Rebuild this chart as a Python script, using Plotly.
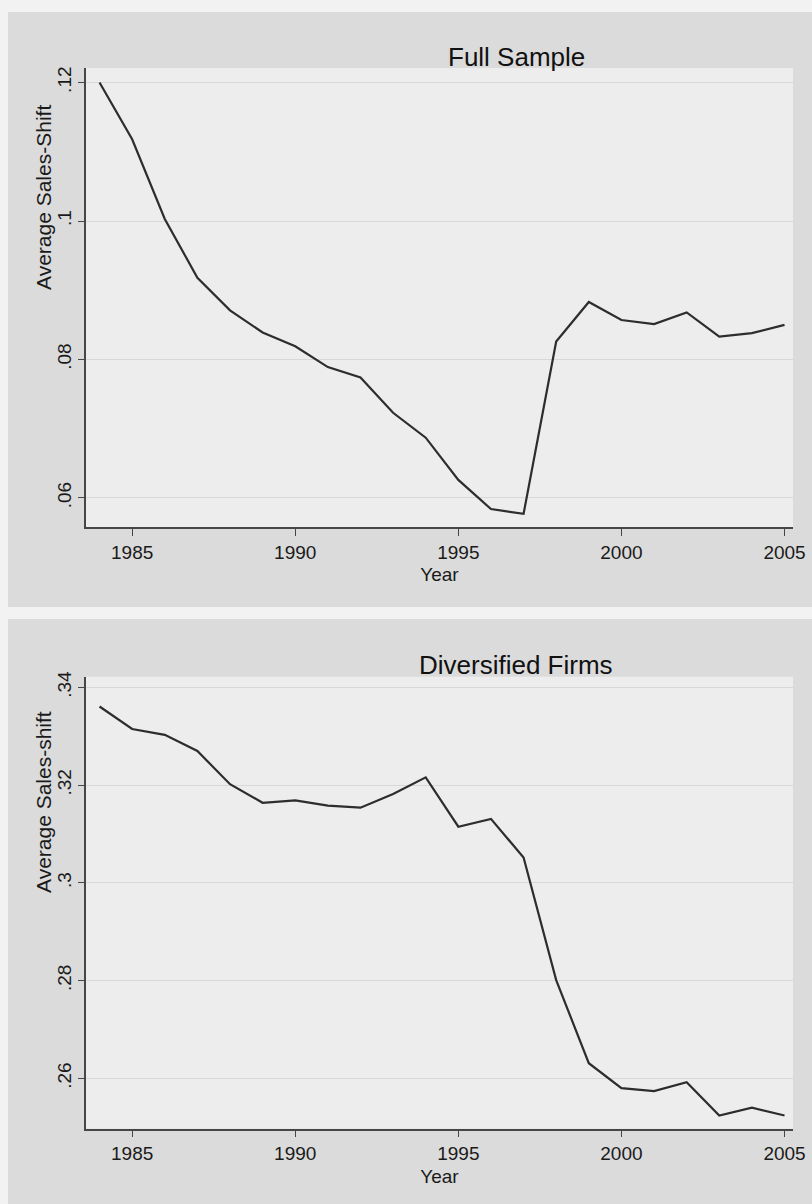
import plotly.graph_objects as go

# Average sales-shift by year, 1984-2005
years = list(range(1984, 2006))

full_sample = [0.1200, 0.1118, 0.1003, 0.0918, 0.0871, 0.0839, 0.0819, 0.0789,
               0.0774, 0.0723, 0.0687, 0.0626, 0.0584, 0.0577, 0.0826, 0.0883,
               0.0857, 0.0851, 0.0868, 0.0833, 0.0838, 0.0850]

diversified = [0.3361, 0.3315, 0.3303, 0.3270, 0.3202, 0.3164, 0.3169, 0.3158,
               0.3154, 0.3182, 0.3216, 0.3115, 0.3131, 0.3052, 0.2801, 0.2631,
               0.2580, 0.2574, 0.2592, 0.2524, 0.2540, 0.2524]

x_ticks = [1985, 1990, 1995, 2000, 2005]
top_yticks = [0.06, 0.08, 0.10, 0.12]
top_ylabels = [".06", ".08", ".1", ".12"]
bot_yticks = [0.26, 0.28, 0.30, 0.32, 0.34]
bot_ylabels = [".26", ".28", ".3", ".32", ".34"]

titles = ["Full Sample", "Diversified Firms"]
ytitles = ["Average Sales-Shift", "Average Sales-shift"]

W, H = 812, 1204
PANEL = "rgb(219,219,219)"
PLOTBG = "rgb(237,237,237)"
GAP = "rgb(242,242,242)"
GRID = "rgb(216,216,216)"
AXIS = "rgb(70,70,70)"
LINE = "rgb(45,45,45)"
NARROW = "Liberation Sans Narrow, Arial Narrow, Liberation Sans, Arial, sans-serif"
SANS = "Liberation Sans, Arial, sans-serif"


def py(px):
    return 1 - px / H


fig = go.Figure()
fig.add_trace(go.Scatter(x=years, y=full_sample, mode="lines",
                         line=dict(color=LINE, width=2.2), xaxis="x", yaxis="y",
                         showlegend=False, hoverinfo="x+y"))
fig.add_trace(go.Scatter(x=years, y=diversified, mode="lines",
                         line=dict(color=LINE, width=2.2), xaxis="x2", yaxis="y2",
                         showlegend=False, hoverinfo="x+y"))

xdom = [86 / W, 793 / W]
xcommon = dict(range=[1983.585, 2005.26], tickvals=x_ticks, automargin=False,
               ticks="outside", ticklen=7, tickwidth=1, tickcolor=AXIS,
               showline=True, linecolor=AXIS, linewidth=1.5, showgrid=False,
               zeroline=False, tickfont=dict(family=NARROW, size=19, color="#1a1a1a"),
               title=dict(text="Year", font=dict(family=NARROW, size=19, color="#1a1a1a"),
                          standoff=6))
ycommon = dict(ticks="outside", ticklen=6, tickwidth=1, tickcolor=AXIS,
               showline=True, linecolor=AXIS, linewidth=1.5, automargin=False,
               showgrid=True, gridcolor=GRID, gridwidth=1, zeroline=False,
               tickangle=-90, tickfont=dict(family=SANS, size=19, color="#1a1a1a"))

fig.update_layout(
    template="none",
    width=W, height=H, margin=dict(l=0, r=0, t=0, b=0, pad=0, autoexpand=False),
    paper_bgcolor=GAP, plot_bgcolor="rgba(0,0,0,0)",
    xaxis=dict(domain=xdom, anchor="y", **xcommon),
    yaxis=dict(domain=[py(527), py(68)], anchor="x", range=[0.0558, 0.1221],
               tickvals=top_yticks, ticktext=top_ylabels, **ycommon),
    xaxis2=dict(domain=xdom, anchor="y2", **xcommon),
    yaxis2=dict(domain=[py(1128.7), py(676.7)], anchor="x2", range=[0.2497, 0.3422],
                tickvals=bot_yticks, ticktext=bot_ylabels, **ycommon),
)

# outer panel backgrounds
fig.add_shape(type="rect", xref="paper", yref="paper", x0=8 / W, x1=1,
              y0=py(607), y1=py(12), fillcolor=PANEL, line_width=0, layer="below")
fig.add_shape(type="rect", xref="paper", yref="paper", x0=8 / W, x1=1,
              y0=0, y1=py(619), fillcolor=PANEL, line_width=0, layer="below")
# plot region backgrounds
for xr, yr in (("x domain", "y domain"), ("x2 domain", "y2 domain")):
    fig.add_shape(type="rect", xref=xr, yref=yr, x0=0, x1=1, y0=0, y1=1,
                  fillcolor=PLOTBG, line_width=0, layer="below")

# panel titles and y-axis titles
for title, ty in zip(titles, (57, 665)):
    fig.add_annotation(text=title, xref="paper", yref="paper", x=516 / W, y=py(ty),
                       showarrow=False, xanchor="center", yanchor="middle",
                       font=dict(family=NARROW, size=26, color="#111"))
for ytitle, cy in zip(ytitles, (198, 802)):
    fig.add_annotation(text=ytitle, xref="paper", yref="paper", x=43 / W, y=py(cy),
                       showarrow=False, xanchor="center", yanchor="middle",
                       textangle=-90, font=dict(family=SANS, size=21, color="#1a1a1a"))

fig.write_html("out.html")
